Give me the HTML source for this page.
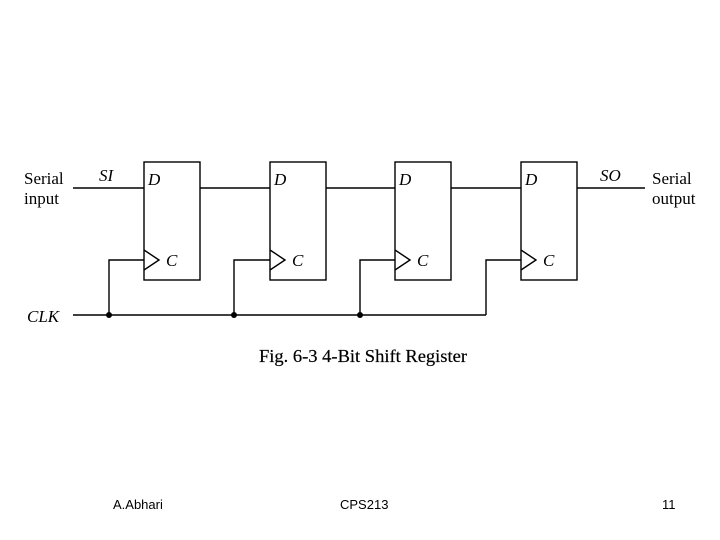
<!DOCTYPE html>
<html><head><style>
body{margin:0;background:#fff;width:720px;height:540px;overflow:hidden;position:relative}
.f{position:absolute;font-family:"Liberation Sans",sans-serif;font-size:13px;color:#000;top:497px}
</style></head><body>
<svg width="720" height="540" style="position:absolute;left:0;top:0" font-family="Liberation Serif, serif">
<g stroke="#000" stroke-width="1.4" fill="none">
<line x1="73" y1="188" x2="144" y2="188"/>
<line x1="200" y1="188" x2="270" y2="188"/>
<line x1="326" y1="188" x2="395" y2="188"/>
<line x1="451" y1="188" x2="521" y2="188"/>
<line x1="577" y1="188" x2="645" y2="188"/>
<rect x="144" y="162" width="56" height="118"/>
<rect x="270" y="162" width="56" height="118"/>
<rect x="395" y="162" width="56" height="118"/>
<rect x="521" y="162" width="56" height="118"/>
<polyline points="144,250 159,260 144,270"/>
<polyline points="270,250 285,260 270,270"/>
<polyline points="395,250 410,260 395,270"/>
<polyline points="521,250 536,260 521,270"/>
<polyline points="109,315 109,260 144,260"/>
<polyline points="234,315 234,260 270,260"/>
<polyline points="360,315 360,260 395,260"/>
<polyline points="486,315 486,260 521,260"/>
<line x1="73" y1="315" x2="486" y2="315"/>
</g>
<g fill="#000">
<circle cx="109" cy="315" r="3"/><circle cx="234" cy="315" r="3"/><circle cx="360" cy="315" r="3"/>
</g>
<g font-size="17" fill="#000">
<text x="24" y="184">Serial</text><text x="24" y="204">input</text>
<text x="652" y="184">Serial</text><text x="652" y="204">output</text>
<text x="27" y="322" font-style="italic">CLK</text>
<text x="99" y="181" font-style="italic">SI</text>
<text x="600" y="181" font-style="italic">SO</text>
<text x="148" y="185" font-style="italic">D</text>
<text x="274" y="185" font-style="italic">D</text>
<text x="399" y="185" font-style="italic">D</text>
<text x="525" y="185" font-style="italic">D</text>
<text x="166" y="266" font-style="italic">C</text>
<text x="292" y="266" font-style="italic">C</text>
<text x="417" y="266" font-style="italic">C</text>
<text x="543" y="266" font-style="italic">C</text>
<text x="259" y="362" font-size="18" textLength="208" lengthAdjust="spacingAndGlyphs" stroke="#000" stroke-width="0.2">Fig. 6-3  4-Bit Shift Register</text>
</g>
</svg>
<div class="f" style="left:113px">A.Abhari</div>
<div class="f" style="left:340px">CPS213</div>
<div class="f" style="left:662px">11</div>
</body></html>
